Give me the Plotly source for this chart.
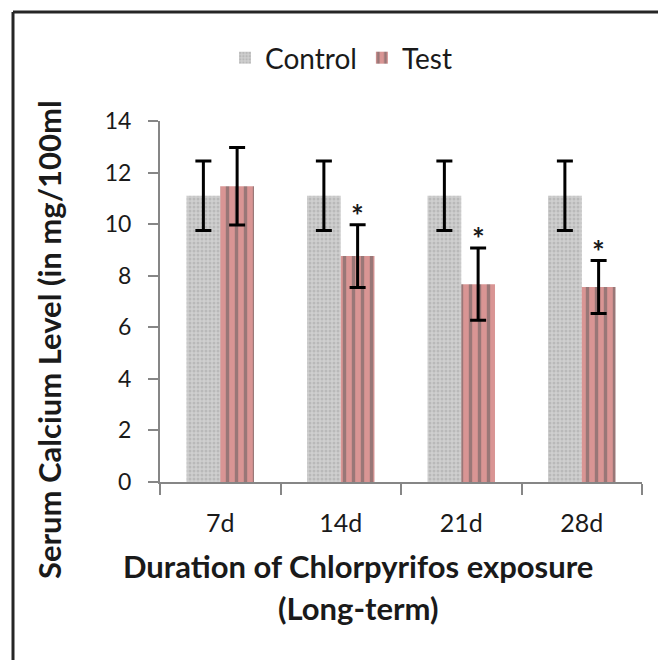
import plotly.graph_objects as go

categories = ["7d", "14d", "21d", "28d"]
control_values = [11.1, 11.1, 11.1, 11.1]
control_errors = [1.35, 1.35, 1.35, 1.35]
test_values = [11.47, 8.76, 7.67, 7.56]
test_errors = [1.5, 1.22, 1.4, 1.03]
significant = [False, True, True, True]
y_ticks = [0, 2, 4, 6, 8, 10, 12, 14]

FONT = "Lato"
TXT = "#1a1a1a"

fig = go.Figure()
fig.add_trace(go.Bar(
    name="Control", x=categories, y=control_values,
    marker=dict(color="#cfcfcf", line=dict(width=0),
                pattern=dict(shape=".", fgcolor="#a3a3a3", size=4, solidity=0.45)),
    error_y=dict(type="data", array=control_errors, color="black", thickness=3, width=8),
))
fig.add_trace(go.Bar(
    name="Test", x=categories, y=test_values,
    marker=dict(color="#d99594", line=dict(width=0),
                pattern=dict(shape="|", fgcolor="#595959", size=9, solidity=0.38)),
    error_y=dict(type="data", array=test_errors, color="black", thickness=3, width=8),
))

for c, v, e, s in zip(categories, test_values, test_errors, significant):
    if s:
        fig.add_annotation(x=c, y=v + e, text="<b>*</b>", showarrow=False, xshift=17, yshift=10,
                           font=dict(family=FONT, size=30, color=TXT))

fig.add_annotation(xref="paper", yref="paper", x=(358 - 160) / 482, y=(482 - 566) / 361,
                   xanchor="center", yanchor="middle",
                   text="<b>Duration of Chlorpyrifos exposure</b>", showarrow=False,
                   font=dict(family=FONT, size=31, color=TXT))
fig.add_annotation(xref="paper", yref="paper", x=(358 - 160) / 482, y=(482 - 608) / 361,
                   xanchor="center", yanchor="middle",
                   text="<b>(Long-term)</b>", showarrow=False,
                   font=dict(family=FONT, size=31, color=TXT))
fig.add_annotation(xref="paper", yref="paper", x=(49 - 160) / 482, y=(482 - 340) / 361,
                   xanchor="center", yanchor="middle",
                   text="<b>Serum Calcium Level (in mg/100ml</b>", showarrow=False, textangle=-90,
                   font=dict(family=FONT, size=31, color=TXT))

# outer frame (left and top edges)
fig.add_shape(type="line", xref="paper", yref="paper", x0=(13 - 160) / 482, x1=1.1,
              y0=(482 - 12) / 361, y1=(482 - 12) / 361, line=dict(color="#262626", width=3))
fig.add_shape(type="line", xref="paper", yref="paper", x0=(13 - 160) / 482, x1=(13 - 160) / 482,
              y0=(482 - 12) / 361, y1=-0.6, line=dict(color="#262626", width=3))

fig.update_layout(
    width=666, height=660,
    margin=dict(l=152, r=32, t=113, b=186, autoexpand=False),
    paper_bgcolor="white", plot_bgcolor="white",
    barmode="group", bargap=0.44, bargroupgap=0,
    font=dict(family=FONT, color=TXT),
    showlegend=True,
    legend=dict(orientation="h", x=(225 - 160) / 482, xanchor="left", y=(482 - 58) / 361,
                yanchor="middle", font=dict(family=FONT, size=28, color=TXT),
                itemwidth=30, traceorder="normal"),
    xaxis=dict(showline=True, linecolor="#868686", linewidth=2, ticks="outside",
               tickson="boundaries", ticklen=11, tickcolor="#868686", tickwidth=2,
               tickfont=dict(family=FONT, size=25, color=TXT), showgrid=False,
               ticklabelstandoff=18),
    yaxis=dict(range=[0, 14], tickvals=y_ticks, showline=True, linecolor="#868686", linewidth=2,
               ticks="outside", ticklen=10, tickcolor="#868686", tickwidth=2,
               tickfont=dict(family=FONT, size=23, color=TXT), showgrid=False, zeroline=False,
               ticklabelstandoff=12),
)

fig.write_html("out.html")
